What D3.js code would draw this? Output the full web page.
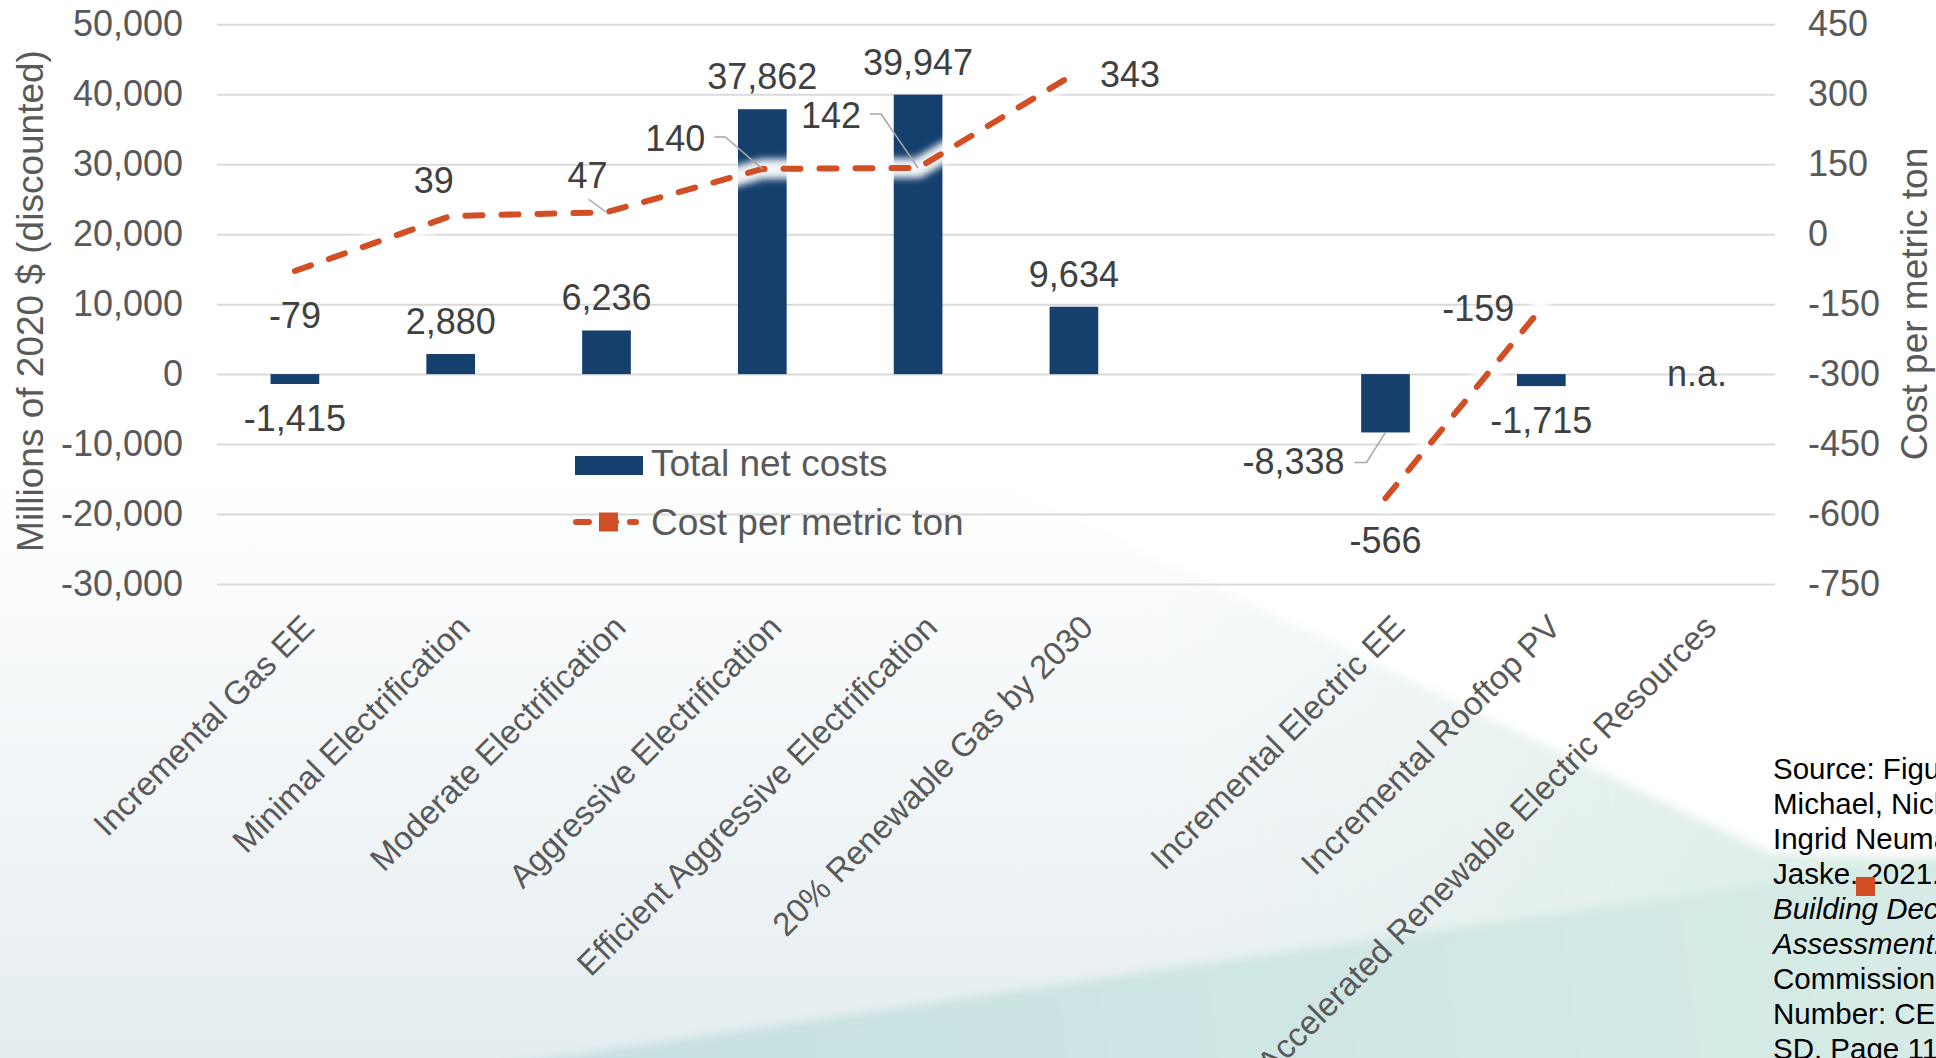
<!DOCTYPE html>
<html>
<head>
<meta charset="utf-8">
<script src="https://cdn.jsdelivr.net/npm/d3@7"></script>
<style>
  html, body { margin: 0; padding: 0; background: #fff; overflow: hidden; }
  svg { display: block; font-family: "Liberation Sans", Arial, sans-serif; }
</style>
</head>
<body>
<svg id="chart" width="1936" height="1058"></svg>
<script>
// ---------------- data ----------------
const categories = [
  "Incremental Gas EE",
  "Minimal Electrification",
  "Moderate Electrification",
  "Aggressive Electrification",
  "Efficient Aggressive Electrification",
  "20% Renewable Gas by 2030",
  "",
  "Incremental Electric EE",
  "Incremental Rooftop PV",
  "Accelerated Renewable Electric Resources"
];
const totalNetCosts = [-1415, 2880, 6236, 37862, 39947, 9634, null, -8338, -1715, null];
const costPerTon    = [-79, 39, 47, 140, 142, 343, null, -566, -159, null];
const leftTicks  = [50000, 40000, 30000, 20000, 10000, 0, -10000, -20000, -30000];
const rightTicks = [450, 300, 150, 0, -150, -300, -450, -600, -750];
const naLabel = "n.a.";
const seriesNames = ["Total net costs", "Cost per metric ton"];
const leftTitle = "Millions of 2020 $ (discounted)";
const rightTitle = "Cost per metric ton";
const sourceLines = [
  {t: "Source: Figure 19 in Kenney,", i: false},
  {t: "Michael, Nicholas Janusch,", i: false},
  {t: "Ingrid Neumann, and Mike", i: false},
  {t: "Jaske. 2021. California", i: false},
  {t: "Building Decarbonization", i: true},
  {t: "Assessment. California Energy", i: true},
  {t: "Commission. Publication", i: false},
  {t: "Number: CEC-400-2021-006-", i: false},
  {t: "SD. Page 11", i: false}
];

// ---------------- layout (styles / positions) ----------------
const W = 1936, H = 1058;
const plot = {left: 217, right: 1775, top: 24.3, bottom: 584};
const barColor = "#153F6D";
const lineColor = "#D24F25";
const gridColor = "#D9D9D9";
const tickColor = "#595959";
const labelColor = "#404040";
const FONT = 36;

// label placement for line labels, relative to the point: [dx, dy, anchor]
const lineLabelPos = {
  0: [0, 57, "middle"],
  1: [-17, -23, "middle"],
  2: [-19, -24, "middle"],
  3: [-87, -18, "middle"],
  4: [-87, -40, "middle"],
  5: [26, 13, "start"],
  7: [0, 55, "middle"],
  8: [-27, 13, "end"]
};

const svg = d3.select("#chart");
const fmt = d3.formatLocale({decimal: ".", thousands: ",", grouping: [3], currency: ["$", ""], minus: "-"}).format(",");

// ---------------- background ----------------
const defs = svg.append("defs");
const g1 = defs.append("linearGradient").attr("id", "bgBlue").attr("x1", 0).attr("y1", 0).attr("x2", 0).attr("y2", 1);
g1.append("stop").attr("offset", "0").attr("stop-color", "#ffffff");
g1.append("stop").attr("offset", "1").attr("stop-color", "#e5edf1");
const g2 = defs.append("linearGradient").attr("id", "bgGreen").attr("gradientUnits", "userSpaceOnUse")
  .attr("x1", 1150).attr("y1", 900).attr("x2", 1850).attr("y2", 900);
g2.append("stop").attr("offset", "0").attr("stop-color", "#e6f1ee").attr("stop-opacity", 0);
g2.append("stop").attr("offset", "1").attr("stop-color", "#dcefe6").attr("stop-opacity", 1);
const g3 = defs.append("linearGradient").attr("id", "bgTeal").attr("gradientUnits", "userSpaceOnUse")
  .attr("x1", 600).attr("y1", 1058).attr("x2", 1900).attr("y2", 880);
g3.append("stop").attr("offset", "0").attr("stop-color", "#c6e0e2");
g3.append("stop").attr("offset", "1").attr("stop-color", "#d6ebe5");

const soft = defs.append("filter").attr("id", "soft").attr("x", "-10%").attr("y", "-10%").attr("width", "120%").attr("height", "120%");
soft.append("feGaussianBlur").attr("stdDeviation", 5);

svg.append("rect").attr("width", W).attr("height", H).attr("fill", "#ffffff");
svg.append("rect").attr("x", 0).attr("y", 470).attr("width", W).attr("height", H - 470).attr("fill", "url(#bgBlue)");
svg.append("polygon")
  .attr("points", "1161,560 1770,853 1936,860 1936,1058 0,1058 0,900")
  .attr("fill", "url(#bgGreen)").attr("filter", "url(#soft)");
svg.append("polygon")
  .attr("points", "974,470 1960,470 1960,858 1770,851 1161,560")
  .attr("fill", "#ffffff").attr("filter", "url(#soft)");
svg.append("polygon")
  .attr("points", "469,1070 1000,993 1950,858 1950,1070")
  .attr("fill", "url(#bgTeal)").attr("filter", "url(#soft)");

// glow filter
const f = defs.append("filter").attr("id", "glow").attr("x", "-20%").attr("y", "-20%").attr("width", "140%").attr("height", "140%");
f.append("feGaussianBlur").attr("stdDeviation", 3.5);

// ---------------- scales ----------------
const idx = d3.range(categories.length);
const x = d3.scaleBand().domain(idx).range([plot.left, plot.right]).paddingInner(0).paddingOuter(0);
const cx = i => x(i) + x.bandwidth() / 2;
const barW = x.bandwidth() * 0.3125;
const yL = d3.scaleLinear().domain([-30000, 50000]).range([plot.bottom, plot.top]);
const yR = d3.scaleLinear().domain([-750, 450]).range([plot.bottom, plot.top]);

// ---------------- gridlines ----------------
svg.append("g").attr("class", "grid")
  .attr("transform", `translate(${plot.left},0)`)
  .call(d3.axisLeft(yL).tickValues(leftTicks).tickSize(-(plot.right - plot.left)).tickFormat(""))
  .call(g => g.select(".domain").remove())
  .call(g => g.selectAll("line").attr("stroke", gridColor).attr("stroke-width", 2));

// ---------------- axes ----------------
svg.append("g")
  .attr("transform", `translate(${plot.left},0)`)
  .call(d3.axisLeft(yL).tickValues(leftTicks).tickSize(0).tickPadding(34).tickFormat(fmt))
  .call(g => g.select(".domain").remove())
  .call(g => g.selectAll("text").attr("fill", tickColor).style("font-size", FONT + "px").style("font-family", "Liberation Sans, Arial, sans-serif"));

svg.append("g")
  .attr("transform", `translate(${plot.right},0)`)
  .call(d3.axisRight(yR).tickValues(rightTicks).tickSize(0).tickPadding(33).tickFormat(fmt))
  .call(g => g.select(".domain").remove())
  .call(g => g.selectAll("text").attr("fill", tickColor).style("font-size", FONT + "px").style("font-family", "Liberation Sans, Arial, sans-serif"));

// axis titles
svg.append("text")
  .attr("transform", "translate(43,301) rotate(-90)")
  .attr("text-anchor", "middle").attr("fill", tickColor).style("font-size", "37px")
  .text(leftTitle);
svg.append("text")
  .attr("transform", "translate(1927,304) rotate(-90)")
  .attr("text-anchor", "middle").attr("fill", tickColor).style("font-size", "37px")
  .text(rightTitle);

// category labels
svg.append("g").selectAll("text")
  .data(idx.filter(i => categories[i] !== ""))
  .join("text")
  .attr("transform", i => `translate(${cx(i) + 13},621) rotate(-45)`)
  .attr("text-anchor", "end").attr("dy", "0.35em")
  .attr("fill", tickColor).style("font-size", "33px")
  .text(i => categories[i]);

// ---------------- bars ----------------
const barData = idx.filter(i => totalNetCosts[i] != null);
svg.append("g").selectAll("rect")
  .data(barData)
  .join("rect")
  .attr("x", i => cx(i) - barW / 2)
  .attr("width", barW)
  .attr("y", i => yL(Math.max(0, totalNetCosts[i])))
  .attr("height", i => Math.abs(yL(totalNetCosts[i]) - yL(0)))
  .attr("fill", barColor);

// ---------------- line ----------------
const line = d3.line()
  .defined(i => costPerTon[i] != null)
  .x(i => cx(i))
  .y(i => yR(costPerTon[i]));

svg.append("path")
  .attr("d", line(idx))
  .attr("fill", "none").attr("stroke", "#ffffff").attr("stroke-width", 20)
  .attr("stroke-linejoin", "round").attr("stroke-linecap", "round")
  .attr("opacity", 0.95).attr("filter", "url(#glow)");
svg.append("path")
  .attr("d", line(idx))
  .attr("fill", "none").attr("stroke", lineColor).attr("stroke-width", 6)
  .attr("stroke-dasharray", "17 19").attr("stroke-linecap", "round").attr("stroke-linejoin", "round");

// ---------------- bar labels ----------------
const labels = svg.append("g").attr("fill", labelColor).style("font-size", FONT + "px");
barData.forEach(i => {
  const v = totalNetCosts[i];
  if (i === 7) {
    const bx = cx(i), by = yL(v);
    labels.append("text").attr("x", bx - 41).attr("y", by + 42).attr("text-anchor", "end").text(fmt(v));
    svg.append("polyline")
      .attr("points", `${bx - 31},${by + 30} ${bx - 19},${by + 30} ${bx},${by}`)
      .attr("fill", "none").attr("stroke", "#A6A6A6").attr("stroke-width", 1.5);
    return;
  }
  const yy = v >= 0 ? yL(v) - 20 : yL(v) + 47;
  labels.append("text").attr("x", cx(i)).attr("y", yy).attr("text-anchor", "middle").text(fmt(v));
});
// n.a. label for the category without data
idx.filter(i => totalNetCosts[i] == null && categories[i] !== "").forEach(i => {
  labels.append("text").attr("x", cx(i)).attr("y", yL(0)).attr("dy", "0.33em").attr("text-anchor", "middle").text(naLabel);
});

// ---------------- line labels ----------------
idx.filter(i => costPerTon[i] != null).forEach(i => {
  const px = cx(i), py = yR(costPerTon[i]);
  const [dx, dy, anchor] = lineLabelPos[i];
  labels.append("text").attr("x", px + dx).attr("y", py + dy).attr("text-anchor", anchor).text(fmt(costPerTon[i]));
});
// leader lines for line labels
const leader = (pts) => svg.append("polyline").attr("points", pts.map(p => p.join(",")).join(" "))
  .attr("fill", "none").attr("stroke", "#A6A6A6").attr("stroke-width", 1.5);
{
  const p2 = [cx(2), yR(costPerTon[2])];
  leader([[p2[0] - 18, p2[1] - 13], p2]);
  const p3 = [cx(3), yR(costPerTon[3])];
  leader([[p3[0] - 48, p3[1] - 32], [p3[0] - 37, p3[1] - 32], p3]);
  const p4 = [cx(4), yR(costPerTon[4])];
  leader([[p4[0] - 48, p4[1] - 54], [p4[0] - 37, p4[1] - 54], p4]);
}

// ---------------- legend ----------------
const lg = svg.append("g");
lg.append("rect").attr("x", 575).attr("y", 456).attr("width", 68).attr("height", 19).attr("fill", barColor);
lg.append("text").attr("x", 651).attr("y", 476).attr("fill", tickColor).style("font-size", "37px").text(seriesNames[0]);
lg.append("line").attr("x1", 576).attr("x2", 636).attr("y1", 522).attr("y2", 522)
  .attr("stroke", lineColor).attr("stroke-width", 6).attr("stroke-linecap", "round").attr("stroke-dasharray", "13 14");
lg.append("rect").attr("x", 599).attr("y", 512.5).attr("width", 19).attr("height", 19).attr("fill", lineColor);
lg.append("text").attr("x", 651).attr("y", 535).attr("fill", tickColor).style("font-size", "37px").text(seriesNames[1]);

// ---------------- source note ----------------
const src = svg.append("text").attr("x", 1773).attr("y", 779).attr("fill", "#000").style("font-size", "29.5px");
sourceLines.forEach((l, k) => {
  src.append("tspan").attr("x", 1773).attr("dy", k === 0 ? 0 : 35)
    .style("font-style", l.i ? "italic" : "normal").text(l.t);
});
// stray marker square seen in the source image
svg.append("rect").attr("x", 1856).attr("y", 877).attr("width", 19).attr("height", 19).attr("fill", lineColor);
</script>
</body>
</html>
